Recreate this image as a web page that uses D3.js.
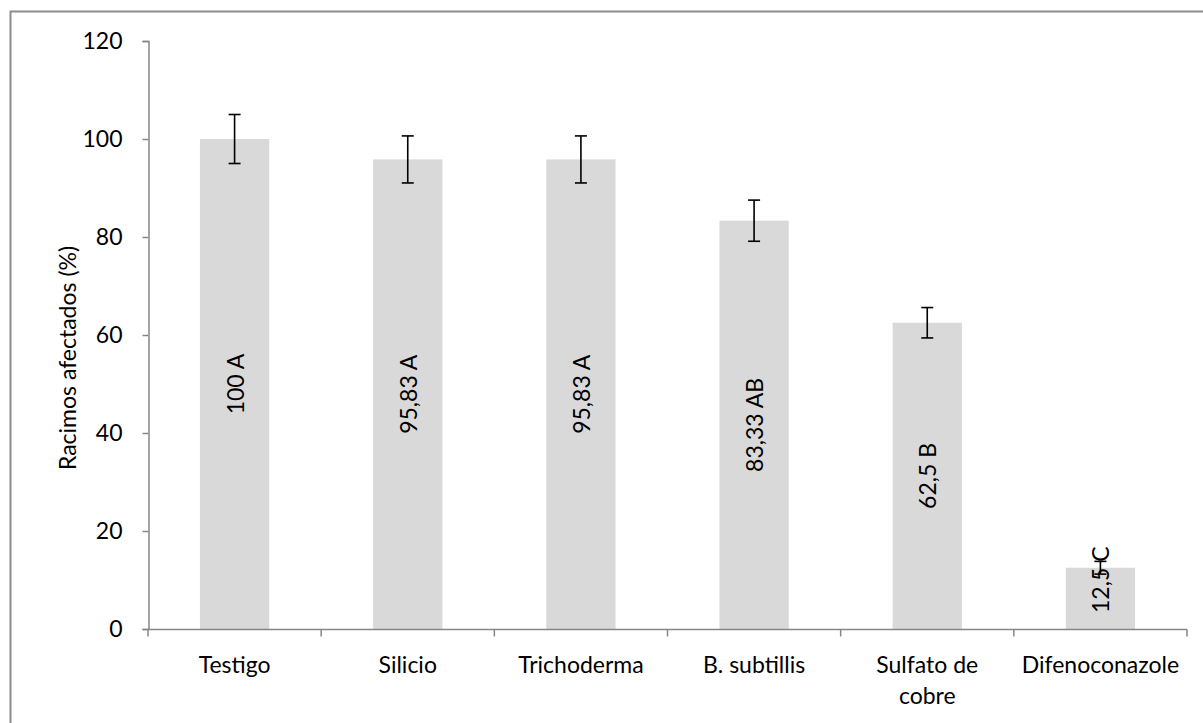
<!DOCTYPE html>
<html>
<head>
<meta charset="utf-8">
<script src="https://cdn.jsdelivr.net/npm/d3@7"></script>
<style>
  html, body { margin: 0; padding: 0; background: #fff; }
  svg { display: block; }
  text { font-family: Lato, "Noto Sans", sans-serif; fill: #000; }
</style>
</head>
<body>
<svg id="chart" width="1203" height="723"></svg>
<script>
// Treatments and percentage of affected bunches
const categories = ["Testigo", "Silicio", "Trichoderma", "B. subtillis", "Sulfato de cobre", "Difenoconazole"];
const values = [100, 95.83, 95.83, 83.33, 62.5, 12.5];
const errors = [5, 4.8, 4.8, 4.2, 3.1, 1.3];
const groups = ["A", "A", "A", "AB", "B", "C"];
const yTicks = [0, 20, 40, 60, 80, 100, 120];
const yTitle = "Racimos afectados (%)";

const svg = d3.select("#chart");
const W = 1203, H = 723;
const fontSize = 23;

// outer chart frame
svg.append("rect")
  .attr("x", 10.5).attr("y", 11.5)
  .attr("width", W + 10).attr("height", H + 10)
  .attr("fill", "none").attr("stroke", "#8c8c8c").attr("stroke-width", 2);

const x = d3.scaleBand().domain(categories).range([148, 1187])
  .paddingInner(0.6).paddingOuter(0.3);
const y = d3.scaleLinear().domain([0, 120]).range([629, 41]);

const axisColor = "#868686";

// bars
svg.append("g").selectAll("rect").data(categories).join("rect")
  .attr("x", d => x(d))
  .attr("width", x.bandwidth())
  .attr("y", (d, i) => y(values[i]))
  .attr("height", (d, i) => y(0) - y(values[i]))
  .attr("fill", "#d9d9d9");

// y axis
const yAxis = svg.append("g")
  .attr("transform", "translate(148.5,0)")
  .call(d3.axisLeft(y).tickValues(yTicks).tickSize(6).tickPadding(20).tickFormat(d3.format("d")));
yAxis.select(".domain").attr("stroke", axisColor).attr("stroke-width", 1.5);
yAxis.selectAll(".tick line").attr("stroke", axisColor).attr("stroke-width", 1.5);
yAxis.selectAll(".tick text").attr("font-size", fontSize).attr("font-family", "Lato").attr("fill", "#000");

// x axis: ticks sit on category boundaries
const xAxisG = svg.append("g").attr("transform", "translate(0,629.5)");
xAxisG.append("line").attr("x1", 148).attr("x2", 1187)
  .attr("stroke", axisColor).attr("stroke-width", 1.5);
const step = x.step();
const bounds = d3.range(categories.length + 1).map(i => 148 + i * step);
xAxisG.selectAll("line.tk").data(bounds).join("line").attr("class", "tk")
  .attr("x1", d => d).attr("x2", d => d).attr("y1", 0).attr("y2", 7)
  .attr("stroke", axisColor).attr("stroke-width", 1.5);

// category labels, wrapped to fit the band
categories.forEach((c, i) => {
  const cx = x(c) + x.bandwidth() / 2;
  const lines = c === "Sulfato de cobre" ? ["Sulfato de", "cobre"] : [c];
  const t = svg.append("text").attr("text-anchor", "middle")
    .attr("font-size", fontSize);
  lines.forEach((ln, j) => {
    t.append("tspan").attr("x", cx).attr("y", 673 + j * 31).text(ln);
  });
});

// y axis title
svg.append("text")
  .attr("transform", "translate(76,358) rotate(-90)")
  .attr("text-anchor", "middle")
  .attr("font-size", fontSize)
  .text(yTitle);

// error bars
const cap = 6;
const eb = svg.append("g").attr("stroke", "#000").attr("stroke-width", 1.6);
categories.forEach((c, i) => {
  const cx = x(c) + x.bandwidth() / 2;
  const hi = y(values[i] + errors[i]), lo = y(values[i] - errors[i]);
  eb.append("line").attr("x1", cx).attr("x2", cx).attr("y1", hi).attr("y2", lo);
  eb.append("line").attr("x1", cx - cap).attr("x2", cx + cap).attr("y1", hi).attr("y2", hi);
  eb.append("line").attr("x1", cx - cap).attr("x2", cx + cap).attr("y1", lo).attr("y2", lo);
});

// value labels, rotated, centred in each bar
const fmt = v => String(v).replace(".", ",");
categories.forEach((c, i) => {
  const cx = x(c) + x.bandwidth() / 2;
  const t = svg.append("text")
    .attr("text-anchor", "middle")
    .attr("dominant-baseline", "central")
    .attr("font-size", fontSize)
    .text(fmt(values[i]) + " " + groups[i]);
  const len = t.node().getComputedTextLength();
  let cy = (y(values[i]) + y(0)) / 2;
  cy = Math.min(cy, y(0) - 16 - len / 2);
  t.attr("transform", `translate(${cx},${cy}) rotate(-90)`);
});
</script>
</body>
</html>
